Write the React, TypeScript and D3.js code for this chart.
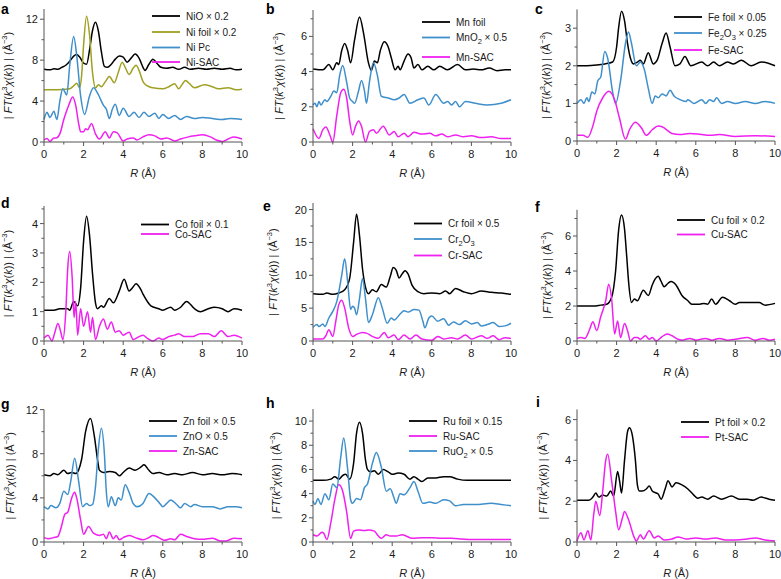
import React from 'react';
import * as d3 from 'd3';

type Pt = [number, number];

const R_MAJOR = [0, 2, 4, 6, 8, 10];
const R_MINOR = [1, 3, 5, 7, 9];

// ---- panel a ----
const niO: Pt[] = [[0,7.1],[0.3,7.05],[0.5,7.15],[0.7,7.1],[0.9,7.3],[1.1,7.5],[1.3,7.9],[1.5,8.4],[1.65,8.55],[1.8,8.3],[2.0,7.7],[2.15,7.6],[2.3,9.0],[2.45,10.9],[2.6,11.7],[2.75,10.8],[2.9,8.8],[3.05,7.4],[3.2,7.3],[3.4,7.6],[3.6,8.1],[3.8,8.4],[4.0,8.3],[4.2,7.8],[4.4,8.2],[4.6,8.6],[4.8,8.2],[5.0,7.3],[5.1,7.0],[5.3,7.6],[5.5,8.1],[5.7,7.7],[5.9,7.3],[6.2,7.2],[6.5,7.3],[6.8,7.1],[7.1,7.3],[7.4,7.1],[7.8,7.2],[8.2,7.1],[8.6,7.2],[9.0,7.1],[9.4,7.2],[9.7,7.05],[10,7.1]];
const niFoil: Pt[] = [[0,5.1],[0.5,5.1],[1.0,5.15],[1.3,5.2],[1.5,5.5],[1.65,5.75],[1.8,5.3],[1.9,6.5],[2.0,9.5],[2.15,12.3],[2.3,10.5],[2.45,6.8],[2.6,5.3],[2.75,5.6],[2.9,5.4],[3.1,5.9],[3.3,6.4],[3.55,5.8],[3.75,6.8],[3.95,7.8],[4.1,7.3],[4.3,6.6],[4.5,7.2],[4.65,7.5],[4.8,7.0],[5.0,5.9],[5.2,5.5],[5.5,5.3],[6.0,5.2],[6.3,5.4],[6.6,5.7],[6.8,5.2],[7.0,5.7],[7.15,6.0],[7.35,5.7],[7.6,5.3],[8.1,5.6],[8.5,5.4],[8.8,5.2],[9.3,5.3],[9.7,5.1],[10,5.15]];
const niPc: Pt[] = [[0,2.2],[0.15,2.9],[0.3,2.4],[0.5,3.0],[0.65,2.2],[0.8,4.0],[0.95,5.2],[1.15,4.6],[1.3,7.5],[1.5,10.3],[1.65,8.5],[1.85,4.5],[2.05,2.7],[2.3,4.5],[2.5,5.3],[2.75,4.6],[3.0,3.6],[3.15,3.2],[3.3,2.3],[3.45,3.2],[3.6,3.7],[3.8,2.6],[4.0,3.3],[4.3,2.5],[4.55,2.9],[4.8,2.4],[5.05,2.9],[5.3,2.5],[5.6,2.8],[5.8,2.3],[6.0,2.7],[6.3,2.3],[6.6,2.6],[6.9,2.2],[7.2,2.5],[7.6,2.3],[8.0,2.4],[8.5,2.3],[9.0,2.2],[9.4,2.3],[10,2.2]];
const niSac: Pt[] = [[0,0.2],[0.15,0.35],[0.3,0.05],[0.5,0.4],[0.6,0.4],[0.8,0.8],[1.0,2.2],[1.1,2.8],[1.25,3.6],[1.45,4.4],[1.6,3.6],[1.75,1.8],[1.85,1.0],[2.0,1.0],[2.1,1.3],[2.2,1.2],[2.4,1.8],[2.6,0.8],[2.8,0.3],[3.1,1.0],[3.3,0.4],[3.5,1.0],[3.7,0.9],[4.0,0.1],[4.2,0.3],[4.5,0.4],[4.7,0.2],[5.0,0.5],[5.3,0.7],[5.6,0.6],[5.9,0.3],[6.2,0.4],[6.6,0.1],[6.9,0.3],[7.3,0.5],[7.6,0.6],[8.0,0.7],[8.4,0.5],[8.7,0.2],[9.0,0.05],[9.3,0.3],[9.6,0.5],[10,0.3]];

// ---- panel b ----
const mnFoil: Pt[] = [[0,4.15],[0.5,4.1],[0.8,4.4],[1.0,4.1],[1.2,4.5],[1.3,4.4],[1.45,5.2],[1.6,5.6],[1.75,5.2],[1.9,4.5],[2.1,5.8],[2.35,7.1],[2.55,6.2],[2.8,4.5],[2.95,4.05],[3.1,4.6],[3.25,4.5],[3.4,5.2],[3.6,5.7],[3.8,5.4],[3.95,4.8],[4.15,4.1],[4.3,4.3],[4.4,4.1],[4.6,4.6],[4.8,5.0],[4.95,4.8],[5.1,4.2],[5.3,4.4],[5.5,4.1],[5.8,4.3],[6.1,4.1],[6.4,4.3],[6.8,4.1],[7.3,4.4],[7.7,4.1],[8.1,4.15],[8.5,4.1],[8.9,4.2],[9.3,4.05],[9.7,4.1],[10,4.1]];
const mnO2: Pt[] = [[0,2.1],[0.1,2.2],[0.2,2.0],[0.3,2.3],[0.4,2.1],[0.6,2.4],[0.7,2.3],[0.9,2.6],[1.05,2.9],[1.2,2.8],[1.35,3.8],[1.5,4.35],[1.7,3.4],[1.85,2.5],[2.0,2.3],[2.1,2.2],[2.3,2.9],[2.45,3.5],[2.6,2.9],[2.7,2.2],[2.85,3.4],[3.05,4.5],[3.25,3.8],[3.45,2.6],[3.8,2.5],[4.1,2.4],[4.35,2.5],[4.6,2.7],[4.9,2.2],[5.3,2.4],[5.6,2.5],[5.85,2.1],[6.2,2.7],[6.6,2.2],[6.8,2.3],[7.0,2.1],[7.2,2.3],[7.4,2.0],[7.7,2.3],[8.2,2.2],[8.8,2.1],[9.5,2.2],[10,2.4]];
const mnSac: Pt[] = [[0,0.75],[0.3,0.2],[0.5,0.7],[0.65,0.85],[0.85,0.4],[1.0,0.0],[1.2,1.5],[1.4,2.8],[1.55,3.0],[1.7,2.5],[1.85,1.2],[2.0,0.4],[2.15,0.9],[2.3,1.2],[2.45,0.9],[2.65,0.0],[2.85,0.6],[3.05,0.7],[3.2,0.5],[3.55,0.9],[3.85,0.4],[4.1,0.6],[4.3,0.3],[4.6,0.5],[4.8,0.3],[5.1,0.55],[5.5,0.45],[5.9,0.5],[6.2,0.35],[6.5,0.45],[6.8,0.3],[7.2,0.4],[7.6,0.3],[8.0,0.35],[8.5,0.25],[9.0,0.3],[9.5,0.2],[10,0.2]];

// ---- panel c ----
const feFoil: Pt[] = [[0,2.0],[0.5,2.0],[1.0,2.02],[1.4,2.05],[1.8,2.1],[2.0,2.5],[2.1,3.0],[2.25,3.45],[2.4,3.2],[2.55,2.6],[2.7,2.2],[2.85,2.05],[3.05,2.1],[3.2,2.15],[3.35,2.05],[3.6,2.35],[3.85,2.05],[4.05,2.15],[4.3,2.6],[4.5,2.87],[4.7,2.5],[4.95,2.0],[5.2,2.05],[5.45,2.25],[5.75,2.0],[6.3,2.1],[6.6,2.0],[6.9,2.1],[7.2,2.0],[7.6,2.1],[7.9,2.05],[8.3,2.15],[8.8,2.0],[9.3,2.1],[10,2.0]];
const fe2O3: Pt[] = [[0,1.0],[0.2,1.1],[0.35,1.0],[0.5,1.15],[0.6,1.05],[0.75,1.3],[0.9,1.25],[1.05,1.6],[1.2,1.7],[1.4,2.38],[1.55,2.2],[1.8,1.3],[1.95,1.0],[2.2,1.6],[2.45,2.6],[2.6,2.9],[2.75,2.6],[3.0,2.0],[3.2,2.1],[3.4,1.9],[3.6,1.4],[3.8,1.0],[3.95,1.2],[4.1,1.15],[4.3,1.25],[4.5,1.2],[4.7,1.35],[4.9,1.2],[5.2,1.1],[5.5,1.05],[5.6,1.1],[5.9,1.0],[6.3,1.1],[6.5,1.0],[6.7,1.1],[6.9,1.05],[7.05,1.15],[7.3,1.0],[7.6,1.05],[8.0,1.0],[8.5,1.05],[9.0,1.0],[9.5,1.05],[10,1.0]];
const feSac: Pt[] = [[0,0.15],[0.3,0.15],[0.55,0.1],[0.8,0.4],[1.0,0.8],[1.3,1.15],[1.6,1.32],[1.9,1.1],[2.15,0.6],[2.45,0.05],[2.65,0.3],[2.95,0.5],[3.25,0.35],[3.5,0.15],[3.8,0.3],[4.1,0.4],[4.3,0.38],[4.8,0.2],[5.2,0.17],[5.7,0.2],[6.2,0.18],[6.7,0.15],[7.2,0.17],[8.0,0.12],[9.0,0.14],[10,0.12]];

// ---- panel d ----
const coFoil: Pt[] = [[0,1.05],[0.5,1.05],[0.8,1.1],[1.2,1.1],[1.3,1.05],[1.5,1.35],[1.7,1.2],[1.85,1.8],[2.0,3.4],[2.15,4.25],[2.3,3.6],[2.45,2.3],[2.6,1.3],[2.7,1.1],[2.9,1.2],[3.0,1.15],[3.3,1.45],[3.5,1.3],[3.8,1.7],[4.05,2.1],[4.3,1.7],[4.45,1.8],[4.65,1.95],[4.85,1.8],[5.0,1.6],[5.4,1.2],[5.8,1.1],[6.0,1.05],[6.4,1.15],[6.6,1.05],[6.9,1.15],[7.2,1.35],[7.6,1.1],[7.9,1.0],[8.3,1.1],[8.6,1.15],[9.0,1.1],[9.3,1.0],[9.6,1.1],[10,1.05]];
const coSac: Pt[] = [[0,0.1],[0.2,0.2],[0.4,0.0],[0.55,0.3],[0.7,0.6],[0.85,0.3],[0.95,0.05],[1.1,1.0],[1.2,2.5],[1.3,3.05],[1.42,2.2],[1.52,0.8],[1.6,1.35],[1.7,0.2],[1.85,1.1],[2.0,0.5],[2.2,1.0],[2.35,0.3],[2.45,0.8],[2.6,0.05],[2.8,0.5],[3.0,0.75],[3.2,0.4],[3.4,0.65],[3.6,0.3],[3.8,0.35],[4.0,0.2],[4.3,0.3],[4.5,0.05],[4.8,0.15],[5.0,0.2],[5.2,0.1],[5.5,0.0],[5.8,0.1],[6.0,0.05],[6.3,0.15],[6.6,0.2],[6.8,0.25],[7.1,0.15],[7.5,0.15],[7.9,0.25],[8.3,0.25],[8.6,0.15],[8.95,0.35],[9.3,0.15],[9.6,0.2],[10,0.1]];

// ---- panel e ----
const crFoil: Pt[] = [[0,7.2],[0.5,7.1],[0.7,7.3],[1.0,7.1],[1.3,7.3],[1.6,7.8],[1.85,9.5],[2.05,15],[2.2,19.3],[2.35,16],[2.5,11],[2.65,8.2],[2.8,7.2],[3.0,7.8],[3.2,7.5],[3.45,8.6],[3.7,8.2],[3.9,9.8],[4.05,11.2],[4.2,10.8],[4.35,9.6],[4.5,10.2],[4.65,10.7],[4.8,10.2],[5.0,8.5],[5.3,7.5],[5.6,7.2],[6.0,7.3],[6.4,7.2],[6.7,7.6],[6.9,7.2],[7.2,8.0],[7.6,7.5],[8.0,7.2],[8.5,7.6],[9.0,7.4],[9.5,7.3],[10,7.1]];
const cr2O3: Pt[] = [[0,2.1],[0.2,2.5],[0.3,2.2],[0.5,2.6],[0.6,2.2],[0.8,3.5],[1.0,4.5],[1.2,6.0],[1.45,10],[1.6,12.5],[1.75,9],[1.9,4.8],[2.0,5.3],[2.1,5.0],[2.2,4.0],[2.35,6.5],[2.5,9.5],[2.65,6.5],[2.8,2.8],[3.0,4.0],[3.3,6.6],[3.5,5.0],[3.75,2.7],[3.95,3.5],[4.1,3.2],[4.4,4.1],[4.6,4.6],[4.8,4.4],[5.1,4.8],[5.35,4.7],[5.55,3.0],[5.65,2.0],[5.85,3.5],[6.0,3.8],[6.3,3.0],[6.6,3.4],[6.85,2.4],[7.1,2.9],[7.4,2.5],[7.7,3.1],[8.0,2.6],[8.3,2.8],[8.5,2.3],[8.8,2.5],[9.1,2.8],[9.4,2.2],[9.7,2.3],[10,2.7]];
const crSac: Pt[] = [[0,0.3],[0.5,0.3],[0.65,0.8],[0.8,1.7],[1.0,0.7],[1.15,3.0],[1.3,5.5],[1.45,6.2],[1.6,5.0],[1.8,2.0],[2.0,0.7],[2.2,1.0],[2.5,1.3],[2.7,1.2],[3.0,0.7],[3.3,0.4],[3.6,1.3],[3.8,0.5],[4.1,0.9],[4.3,0.2],[4.6,0.9],[4.9,0.3],[5.2,0.9],[5.5,0.3],[6.0,0.1],[6.3,0.7],[6.6,0.3],[7.0,0.5],[7.3,0.3],[7.7,0.9],[8.0,0.3],[8.5,0.8],[8.8,0.4],[9.1,0.8],[9.4,0.2],[9.7,0.5],[10,0.4]];

// ---- panel f ----
const cuFoil: Pt[] = [[0,2.0],[0.8,2.0],[1.2,2.05],[1.5,2.1],[1.75,2.5],[1.95,4.0],[2.1,6.3],[2.25,7.2],[2.4,6.4],[2.5,5.0],[2.62,3.2],[2.75,2.2],[2.9,2.4],[3.05,2.3],[3.35,2.9],[3.6,2.6],[3.8,3.2],[3.95,3.55],[4.1,3.7],[4.25,3.4],[4.4,3.1],[4.6,3.3],[4.75,3.4],[5.0,3.2],[5.3,2.6],[5.6,2.3],[5.8,2.1],[6.2,2.1],[6.4,2.15],[6.6,2.1],[6.8,2.4],[7.0,2.1],[7.35,2.5],[7.7,2.3],[8.0,2.1],[8.2,2.2],[8.8,2.2],[9.2,2.2],[9.5,2.05],[10,2.15]];
const cuSac: Pt[] = [[0,0.15],[0.2,0.2],[0.4,0.15],[0.65,0.7],[0.8,1.1],[1.0,0.6],[1.2,1.4],[1.35,1.9],[1.45,2.3],[1.6,3.25],[1.75,2.4],[1.9,0.4],[2.05,1.15],[2.2,0.2],[2.4,1.0],[2.55,0.6],[2.7,0.0],[2.9,0.2],[3.05,0.2],[3.2,0.1],[3.45,0.3],[3.65,0.1],[3.8,0.2],[4.0,0.0],[4.3,0.25],[4.55,0.4],[4.8,0.3],[5.1,0.1],[5.3,0.05],[5.7,0.15],[6.0,0.05],[6.5,0.15],[6.8,0.05],[7.2,0.15],[7.6,0.05],[8.0,0.1],[8.6,0.2],[9.0,0.05],[9.4,0.15],[9.7,0.05],[10,0.1]];

// ---- panel g ----
const znFoil: Pt[] = [[0,6.1],[0.3,6.0],[0.5,6.2],[0.7,6.1],[1.0,6.5],[1.2,6.2],[1.4,6.3],[1.6,6.2],[1.9,7.5],[2.1,10],[2.35,11.2],[2.55,9.5],[2.7,7.5],[2.8,6.5],[3.0,6.3],[3.3,6.4],[3.6,6.3],[3.8,6.0],[4.0,6.3],[4.3,6.7],[4.6,6.5],[4.9,6.8],[5.05,7.0],[5.3,6.5],[5.5,6.2],[5.8,6.3],[6.2,6.1],[6.6,6.2],[7.0,6.1],[7.5,6.3],[8.0,6.1],[8.5,6.2],[9.0,6.1],[9.5,6.2],[10,6.1]];
const znO: Pt[] = [[0,3.2],[0.2,3.0],[0.35,3.3],[0.6,3.1],[0.8,3.5],[1.0,4.6],[1.2,4.3],[1.35,5.5],[1.55,7.6],[1.75,5.5],[1.95,3.2],[2.15,3.5],[2.3,3.3],[2.45,3.4],[2.6,5.0],[2.75,8.5],[2.9,10.3],[3.05,8.0],[3.15,4.5],[3.25,3.2],[3.4,4.1],[3.6,3.3],[3.75,4.0],[3.9,3.8],[4.1,5.2],[4.3,4.5],[4.5,3.5],[4.7,3.2],[5.0,3.5],[5.3,4.4],[5.6,4.0],[5.85,3.5],[6.0,3.2],[6.2,3.5],[6.4,3.8],[6.7,3.4],[6.9,3.1],[7.1,3.5],[7.4,3.2],[7.6,3.4],[8.0,3.2],[8.5,3.2],[8.9,3.0],[9.3,3.2],[9.7,3.2],[10,3.1]];
const znSac: Pt[] = [[0,0.4],[0.2,0.3],[0.5,0.4],[0.7,0.5],[0.85,1.2],[1.05,2.5],[1.2,2.7],[1.4,4.0],[1.55,4.5],[1.65,4.0],[1.85,2.0],[2.0,0.7],[2.25,1.4],[2.5,0.8],[2.8,0.6],[3.0,0.7],[3.15,0.3],[3.3,0.9],[3.5,0.3],[3.65,0.6],[3.8,0.2],[4.0,0.4],[4.3,0.6],[4.6,0.4],[5.0,0.2],[5.3,0.4],[5.5,0.6],[5.8,0.4],[6.1,0.15],[6.4,0.3],[6.6,0.2],[6.9,0.7],[7.2,0.5],[7.6,0.3],[8.0,0.25],[8.5,0.35],[8.9,0.1],[9.2,0.1],[9.6,0.35],[10,0.3]];

// ---- panel h ----
const ruFoil: Pt[] = [[0,5.1],[0.5,5.1],[0.9,5.2],[1.1,5.4],[1.3,5.2],[1.5,5.5],[1.65,5.6],[1.85,5.2],[2.05,6.5],[2.2,9.0],[2.35,9.9],[2.5,9.0],[2.65,6.8],[2.75,6.0],[2.9,5.8],[3.1,5.9],[3.3,5.6],[3.55,6.0],[3.8,5.8],[4.0,5.6],[4.3,5.7],[4.6,5.6],[4.9,5.2],[5.1,5.4],[5.3,5.2],[5.5,5.0],[5.8,5.3],[6.2,5.3],[6.6,5.4],[6.9,5.4],[7.3,5.2],[7.8,5.1],[8.5,5.1],[9.2,5.1],[10,5.1]];
const ruSac: Pt[] = [[0,0.6],[0.2,0.5],[0.45,0.8],[0.55,0.7],[0.7,0.2],[0.9,1.6],[1.1,3.5],[1.3,4.75],[1.5,4.2],[1.7,2.5],[1.9,0.3],[2.05,0.9],[2.3,1.0],[2.6,0.95],[2.8,1.0],[3.1,0.9],[3.3,0.5],[3.45,0.3],[3.7,0.6],[3.9,0.5],[4.2,0.5],[4.5,0.6],[4.7,0.5],[5.0,0.3],[5.5,0.35],[6.0,0.35],[6.5,0.3],[7.0,0.3],[7.5,0.25],[8.0,0.2],[9.0,0.2],[10,0.2]];
const ruO2: Pt[] = [[0,3.4],[0.1,3.1],[0.25,3.6],[0.4,3.1],[0.6,4.0],[0.8,3.5],[1.0,4.8],[1.2,4.5],[1.4,7.0],[1.55,8.6],[1.75,6.0],[1.9,3.5],[2.0,3.2],[2.2,3.6],[2.4,3.5],[2.6,4.5],[2.75,4.8],[3.0,6.5],[3.2,7.4],[3.45,6.2],[3.7,4.2],[3.9,4.4],[4.1,3.6],[4.2,3.2],[4.4,4.0],[4.6,3.9],[4.9,4.5],[5.1,5.0],[5.3,4.2],[5.55,3.2],[5.9,3.3],[6.2,3.2],[6.6,3.5],[6.9,3.4],[7.2,3.0],[7.6,3.1],[8.2,3.1],[9.0,3.2],[9.5,3.1],[10,3.0]];

// ---- panel i ----
const ptFoil: Pt[] = [[0,2.05],[0.6,2.05],[0.8,2.2],[0.95,2.4],[1.1,2.2],[1.3,2.3],[1.5,2.25],[1.7,2.5],[1.85,2.25],[2.05,3.45],[2.15,3.0],[2.25,2.4],[2.4,4.0],[2.55,5.4],[2.65,5.6],[2.8,5.2],[2.95,4.0],[3.05,2.8],[3.15,2.5],[3.3,2.5],[3.5,2.6],[3.65,2.75],[3.8,2.5],[4.0,2.4],[4.1,2.35],[4.25,2.1],[4.45,2.6],[4.6,3.0],[4.8,2.7],[5.0,2.9],[5.3,2.8],[5.6,2.6],[5.9,2.3],[6.1,2.15],[6.3,2.2],[6.6,2.1],[6.9,2.25],[7.3,2.1],[7.8,2.25],[8.2,2.1],[8.6,2.1],[8.9,2.05],[9.3,2.2],[9.7,2.1],[10,2.05]];
const ptSac: Pt[] = [[0,0.05],[0.2,0.45],[0.35,0.1],[0.55,0.55],[0.7,0.1],[0.85,1.4],[0.95,2.0],[1.15,1.3],[1.3,2.5],[1.45,4.0],[1.55,4.3],[1.75,3.0],[1.95,1.5],[2.1,0.6],[2.3,1.2],[2.4,1.5],[2.6,1.1],[2.9,0.2],[3.0,0.05],[3.2,0.35],[3.35,0.15],[3.65,0.55],[3.9,0.2],[4.1,0.3],[4.4,0.1],[4.8,0.15],[5.1,0.25],[5.5,0.15],[6.0,0.2],[6.5,0.15],[7.0,0.2],[7.5,0.1],[8.0,0.1],[8.6,0.15],[9.0,0.2],[9.5,0.1],[10,0.05]];

const BLACK = '#000000';
const OLIVE = '#a0a022';
const BLUE = '#3f8fcb';
const MAGENTA = '#f020f0';
const AXIS = '#555555';
const TEXT = '#1a1a1a';
const FONT = "'Liberation Sans', Arial, Helvetica, sans-serif";

type Series = { label: string; data: Pt[]; color: string };
type Panel = {
  letter: string; letterX: number; letterY: number;
  left: number; top: number; bottom: number; ymax: number;
  yMajor: number[]; yMinor: number[]; yTitleX: number;
  legX: number; legY: number[];
  series: Series[];
};

const W = 198;

const panels: Panel[] = [
  { letter: 'a', letterX: 1, letterY: 14, left: 44, top: 9, bottom: 142, ymax: 13,
    yMajor: [0, 4, 8, 12], yMinor: [2, 6, 10], yTitleX: 9,
    legX: 152, legY: [16, 32, 47.5, 62],
    series: [
      { label: 'NiO × 0.2', data: niO, color: BLACK },
      { label: 'Ni foil × 0.2', data: niFoil, color: OLIVE },
      { label: 'Ni Pc', data: niPc, color: BLUE },
      { label: 'Ni-SAC', data: niSac, color: MAGENTA },
    ] },
  { letter: 'b', letterX: 266, letterY: 14, left: 313, top: 10, bottom: 142, ymax: 7.5,
    yMajor: [0, 2, 4, 6], yMinor: [1, 3, 5, 7], yTitleX: 280,
    legX: 422, legY: [22, 37.5, 57],
    series: [
      { label: 'Mn foil', data: mnFoil, color: BLACK },
      { label: 'MnO_2 × 0.5', data: mnO2, color: BLUE },
      { label: 'Mn-SAC', data: mnSac, color: MAGENTA },
    ] },
  { letter: 'c', letterX: 535, letterY: 14, left: 577, top: 9.4, bottom: 141, ymax: 3.5,
    yMajor: [0, 1, 2, 3], yMinor: [0.5, 1.5, 2.5], yTitleX: 547,
    legX: 674, legY: [17, 33, 50],
    series: [
      { label: 'Fe foil × 0.05', data: feFoil, color: BLACK },
      { label: 'Fe_2O_3 × 0.25', data: fe2O3, color: BLUE },
      { label: 'Fe-SAC', data: feSac, color: MAGENTA },
    ] },
  { letter: 'd', letterX: 1, letterY: 208, left: 44, top: 206, bottom: 341, ymax: 4.6,
    yMajor: [0, 1, 2, 3, 4], yMinor: [0.5, 1.5, 2.5, 3.5, 4.5], yTitleX: 9,
    legX: 141, legY: [224.5, 234],
    series: [
      { label: 'Co foil × 0.1', data: coFoil, color: BLACK },
      { label: 'Co-SAC', data: coSac, color: MAGENTA },
    ] },
  { letter: 'e', letterX: 263, letterY: 211, left: 313, top: 203, bottom: 341, ymax: 21,
    yMajor: [0, 5, 10, 15, 20], yMinor: [2.5, 7.5, 12.5, 17.5], yTitleX: 274,
    legX: 414, legY: [223.5, 239, 255.5],
    series: [
      { label: 'Cr foil × 0.5', data: crFoil, color: BLACK },
      { label: 'Cr_2O_3', data: cr2O3, color: BLUE },
      { label: 'Cr-SAC', data: crSac, color: MAGENTA },
    ] },
  { letter: 'f', letterX: 535, letterY: 212, left: 577, top: 209.75, bottom: 341, ymax: 7.5,
    yMajor: [0, 2, 4, 6], yMinor: [1, 3, 5, 7], yTitleX: 548,
    legX: 677, legY: [220, 234.5],
    series: [
      { label: 'Cu foil × 0.2', data: cuFoil, color: BLACK },
      { label: 'Cu-SAC', data: cuSac, color: MAGENTA },
    ] },
  { letter: 'g', letterX: 1, letterY: 409, left: 44, top: 409.6, bottom: 542, ymax: 12,
    yMajor: [0, 4, 8, 12], yMinor: [2, 6, 10], yTitleX: 11,
    legX: 149, legY: [421, 436, 451],
    series: [
      { label: 'Zn foil × 0.5', data: znFoil, color: BLACK },
      { label: 'ZnO × 0.5', data: znO, color: BLUE },
      { label: 'Zn-SAC', data: znSac, color: MAGENTA },
    ] },
  { letter: 'h', letterX: 266, letterY: 408, left: 313, top: 409, bottom: 542, ymax: 11,
    yMajor: [0, 2, 4, 6, 8, 10], yMinor: [1, 3, 5, 7, 9], yTitleX: 277,
    legX: 409, legY: [421, 436, 451],
    series: [
      { label: 'Ru foil × 0.15', data: ruFoil, color: BLACK },
      { label: 'Ru-SAC', data: ruSac, color: MAGENTA },
      { label: 'RuO_2 × 0.5', data: ruO2, color: BLUE },
    ] },
  { letter: 'i', letterX: 536, letterY: 407, left: 577, top: 409.4, bottom: 542, ymax: 6.5,
    yMajor: [0, 2, 4, 6], yMinor: [1, 3, 5], yTitleX: 544,
    legX: 681, legY: [422, 437],
    series: [
      { label: 'Pt foil × 0.2', data: ptFoil, color: BLACK },
      { label: 'Pt-SAC', data: ptSac, color: MAGENTA },
    ] },
];

function RichLabel({ text }: { text: string }) {
  const parts = text.split(/(_\d)/).filter((p) => p.length > 0);
  let shifted = false;
  const out: React.ReactNode[] = [];
  parts.forEach((p, i) => {
    if (p.startsWith('_')) {
      out.push(<tspan key={i} dy={3} fontSize={7.5}>{p.slice(1)}</tspan>);
      shifted = true;
    } else {
      out.push(<tspan key={i} dy={shifted ? -3 : 0}>{p}</tspan>);
      shifted = false;
    }
  });
  return <>{out}</>;
}

function YTitle({ x, y }: { x: number; y: number }) {
  return (
    <text transform={`translate(${x},${y}) rotate(-90)`} textAnchor="middle"
      dominantBaseline="middle" fontSize={11} fill={TEXT} fontFamily={FONT}>
      <tspan>| </tspan>
      <tspan fontStyle="italic">FT</tspan>
      <tspan>(</tspan>
      <tspan fontStyle="italic">k</tspan>
      <tspan dy={-4} fontSize={7.5}>3</tspan>
      <tspan dy={4} fontStyle="italic">χ</tspan>
      <tspan>(</tspan>
      <tspan fontStyle="italic">k</tspan>
      <tspan>)) |  (Å</tspan>
      <tspan dy={-4} fontSize={7.5}>−3</tspan>
      <tspan dy={4}>)</tspan>
    </text>
  );
}

function PanelView({ p }: { p: Panel }) {
  const x = d3.scaleLinear().domain([0, 10]).range([p.left, p.left + W]);
  const y = d3.scaleLinear().domain([0, p.ymax]).range([p.bottom, p.top]);
  const line = d3.line<Pt>().x((d) => x(d[0])).y((d) => y(d[1])).curve(d3.curveMonotoneX);
  const midY = (p.top + p.bottom) / 2;
  return (
    <g>
      <text x={p.letterX} y={p.letterY} fontSize={14} fontWeight="bold" fill="#000" fontFamily={FONT}>{p.letter}</text>
      {p.series.map((s, i) => (
        <path key={i} d={line(s.data) || ''} fill="none" stroke={s.color} strokeWidth={1.5} strokeLinejoin="round" />
      ))}
      <line x1={p.left} x2={p.left} y1={p.top} y2={p.bottom} stroke={AXIS} strokeWidth={1} />
      <line x1={p.left} x2={p.left + W} y1={p.bottom} y2={p.bottom} stroke={AXIS} strokeWidth={1} />
      {R_MAJOR.map((t) => (
        <g key={'xm' + t}>
          <line x1={x(t)} x2={x(t)} y1={p.bottom} y2={p.bottom + 4} stroke={AXIS} />
          <text x={x(t)} y={p.bottom + 16} textAnchor="middle" fontSize={11} fill={TEXT} fontFamily={FONT}>{t}</text>
        </g>
      ))}
      {R_MINOR.map((t) => (
        <line key={'xn' + t} x1={x(t)} x2={x(t)} y1={p.bottom} y2={p.bottom + 2.5} stroke={AXIS} />
      ))}
      {p.yMajor.map((t) => (
        <g key={'ym' + t}>
          <line x1={p.left - 4} x2={p.left} y1={y(t)} y2={y(t)} stroke={AXIS} />
          <text x={p.left - 6} y={y(t) + 4} textAnchor="end" fontSize={11} fill={TEXT} fontFamily={FONT}>{t}</text>
        </g>
      ))}
      {p.yMinor.map((t) => (
        <line key={'yn' + t} x1={p.left - 2.5} x2={p.left} y1={y(t)} y2={y(t)} stroke={AXIS} />
      ))}
      <text x={p.left + W / 2} y={p.bottom + 35} textAnchor="middle" fontSize={11} fill={TEXT} fontFamily={FONT}>
        <tspan fontStyle="italic">R</tspan> (Å)
      </text>
      <YTitle x={p.yTitleX} y={midY} />
      {p.series.map((s, i) => (
        <g key={'lg' + i}>
          <line x1={p.legX} x2={p.legX + 28} y1={p.legY[i]} y2={p.legY[i]} stroke={s.color} strokeWidth={1.8} />
          <text x={p.legX + 34} y={p.legY[i] + 3.5} fontSize={10} fill={TEXT} fontFamily={FONT}>
            <RichLabel text={s.label} />
          </text>
        </g>
      ))}
    </g>
  );
}

export default function App() {
  return (
    <svg width={781} height={579} viewBox="0 0 781 579"
      style={{ position: 'absolute', left: 0, top: 0, background: '#fff' }}>
      <rect x={0} y={0} width={781} height={579} fill="#fff" />
      {panels.map((p) => <PanelView key={p.letter} p={p} />)}
    </svg>
  );
}
